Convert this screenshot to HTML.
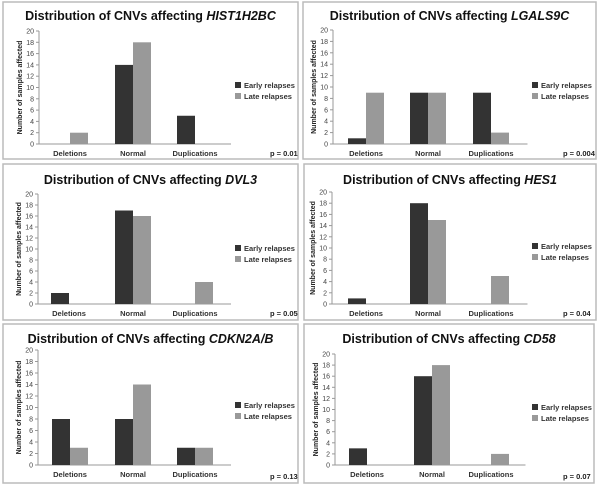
<!DOCTYPE html>
<html><head><meta charset="utf-8"><style>
body{margin:0;background:#fff;}
svg{display:block;font-family:"Liberation Sans",Arial,sans-serif;}
</style></head><body>
<svg id="chart" width="600" height="486"></svg>
<script>
const genes = ["HIST1H2BC","LGALS9C","DVL3","HES1","CDKN2A/B","CD58"];
const categories = ["Deletions","Normal","Duplications"];
const earlyValues = [[0,14,5],[1,9,9],[2,17,0],[1,18,0],[8,8,3],[3,16,0]];
const lateValues = [[2,18,0],[9,9,2],[0,16,4],[0,15,5],[3,14,3],[0,18,2]];
const pValues = ["p = 0.01","p = 0.004","p = 0.05","p = 0.04","p = 0.13","p = 0.07"];
const yTicks = [0,2,4,6,8,10,12,14,16,18,20];

const panels = [
 {bx:3,by:2,bw:295,bh:157,ax:39,y20:31,y0:144,cx:[70,133,195],lx:235,ly:86,ty:20,px:270,py:156},
 {bx:303,by:2,bw:293,bh:157,ax:333,y20:30,y0:144,cx:[366,428,491],lx:532,ly:86,ty:20,px:563,py:156},
 {bx:3,by:164,bw:295,bh:156,ax:38,y20:194,y0:304,cx:[69,133,195],lx:235,ly:249,ty:184,px:270,py:316},
 {bx:304,by:164,bw:292,bh:156,ax:332,y20:192,y0:304,cx:[366,428,491],lx:532,ly:247,ty:184,px:563,py:316},
 {bx:3,by:324,bw:295,bh:159,ax:38,y20:350,y0:465,cx:[70,133,195],lx:235,ly:406,ty:343,px:270,py:479},
 {bx:304,by:324,bw:290,bh:159,ax:335,y20:354,y0:465,cx:[367,432,491],lx:532,ly:408,ty:343,px:563,py:479}
];
const NS="http://www.w3.org/2000/svg";
const svg=document.getElementById("chart");
function mk(tag,attrs,parent){const e=document.createElementNS(NS,tag);for(const k in attrs)e.setAttribute(k,attrs[k]);parent.appendChild(e);return e;}
const BW=18;
panels.forEach((p,i)=>{
  const g=mk("g",{},svg);
  
  
  const box=mk("rect",{x:p.bx,y:p.by,width:p.bw,height:p.bh,fill:"#fff",stroke:"#bbb","stroke-width":1.5},g);
  
  
  const t=mk("text",{x:p.bx+p.bw/2,y:p.ty,"text-anchor":"middle","font-size":12.5,"font-weight":"bold",fill:"#111"},g);
  
  
  t.appendChild(document.createTextNode("Distribution of CNVs affecting "));
  const ts=mk("tspan",{"font-style":"italic"},t);ts.textContent=genes[i];
  const ys=v=>p.y0-(p.y0-p.y20)*v/20;
  const xEnd=p.cx[2]+(p.cx[2]-p.cx[1])/2+5;
  mk("line",{x1:p.ax,y1:p.y20,x2:p.ax,y2:p.y0,stroke:"#999"},g);
  mk("line",{x1:p.ax,y1:p.y0,x2:xEnd,y2:p.y0,stroke:"#999"},g);
  yTicks.forEach(v=>{
    mk("line",{x1:p.ax-3,y1:ys(v),x2:p.ax,y2:ys(v),stroke:"#999"},g);
    const tl=mk("text",{x:p.ax-5,y:ys(v)+2.5,"text-anchor":"end","font-size":7,fill:"#444"},g);
    tl.textContent=v;
    
    
  });
  const yl=mk("text",{x:0,y:0,transform:`translate(${p.ax-17},${(p.y0+p.y20)/2}) rotate(-90)`,"text-anchor":"middle","font-size":7,"font-weight":"bold",fill:"#222"},g);
  yl.textContent="Number of samples affected";
  
  
  categories.forEach((c,j)=>{
    const e=earlyValues[i][j], l=lateValues[i][j];
    if(e>0){const r=mk("rect",{x:p.cx[j]-BW,y:ys(e),width:BW,height:p.y0-ys(e),fill:"#333"},g);
      
      }
    if(l>0){const r=mk("rect",{x:p.cx[j],y:ys(l),width:BW,height:p.y0-ys(l),fill:"#999"},g);
      
      }
    const cl=mk("text",{x:p.cx[j],y:p.y0+12,"text-anchor":"middle","font-size":7.5,"font-weight":"bold",fill:"#333"},g);
    cl.textContent=c;
    
    
  });
  [["Early relapses","#333",0],["Late relapses","#999",11]].forEach(([n,col,dy])=>{
    const s=mk("rect",{x:p.lx,y:p.ly+dy-4,width:6,height:6,fill:col},g);
    
    
    const lt=mk("text",{x:p.lx+9,y:p.ly+dy+2,"font-size":7.5,"font-weight":"bold",fill:"#333"},g);
    lt.textContent=n;
    
    
  });
  const pv=mk("text",{x:p.px,y:p.py,"font-size":7.5,"font-weight":"bold",fill:"#222"},g);
  pv.textContent=pValues[i];
  
  
});
</script>
</body></html>
